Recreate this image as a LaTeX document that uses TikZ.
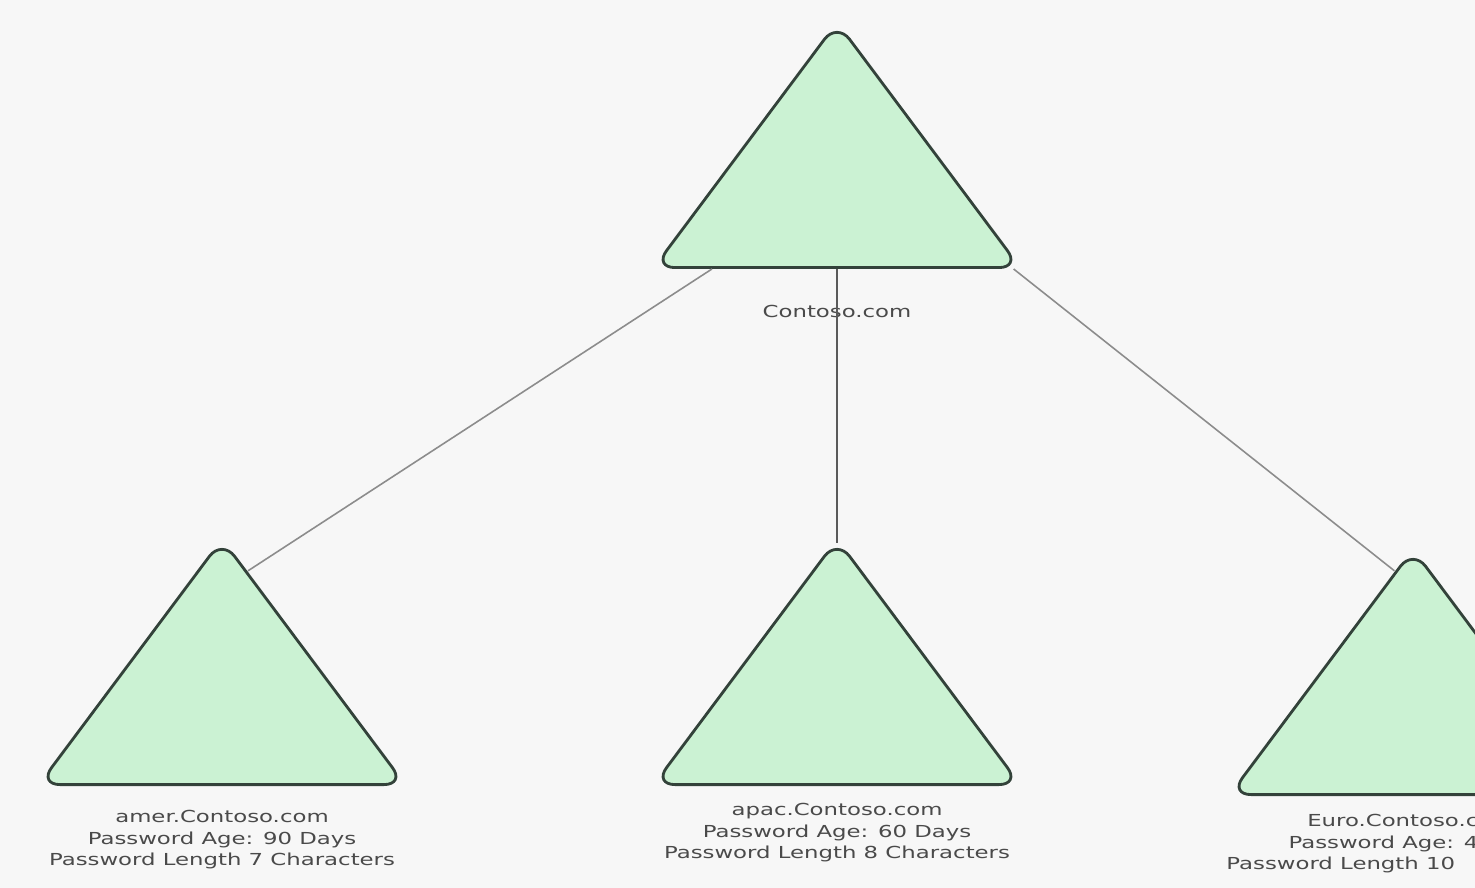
\documentclass[tikz,border=0pt]{standalone}
\usepackage{fontspec}
\setmainfont{DejaVu Sans}[FakeStretch=1.38]
\usetikzlibrary{shapes.geometric,positioning,calc}
\definecolor{bgcol}{HTML}{F7F7F7}
\definecolor{domfill}{HTML}{CBF2D3}
\definecolor{domline}{HTML}{33423A}
\definecolor{linkgray}{HTML}{8C8C8C}
\definecolor{trunkgray}{HTML}{5A5A5A}
\definecolor{txtgray}{HTML}{4A4A4A}

\tikzset{
  dombox/.style={isosceles triangle, isosceles triangle stretches, shape border rotate=90,
    minimum width=3.66cm, minimum height=2.45cm, inner sep=0pt, rounded corners=6pt,
    draw=domline, line width=0.8pt, fill=domfill},
  lbl/.style={text=txtgray, font=\fontsize{4.7}{6.0}\selectfont, align=center, inner sep=0pt},
  link/.style={draw=linkgray, line width=0.45pt},
  trunk/.style={draw=trunkgray, line width=0.8pt}
}

\begin{document}
\begin{tikzpicture}[x=0.01cm,y=-0.01cm]
\clip (0,0) rectangle (1475,888);
\fill[bgcol] (0,0) rectangle (1475,888);

% forest root and child domains
\node[dombox, anchor=lower side](root) at (837,269){};
\node[dombox, anchor=lower side](amer) at (222,786){};
\node[dombox, anchor=lower side](apac) at (837,786){};
\node[dombox, anchor=lower side](euro) at (1413,796){};

\node[lbl, below=0.36cm of root.lower side](rootlbl){Contoso.com};
\node[lbl, below=0.24cm of amer.lower side](amerlbl){amer.Contoso.com\\Password Age: 90 Days\\Password Length 7 Characters};
\node[lbl, below=0.17cm of apac.lower side](apaclbl){apac.Contoso.com\\Password Age: 60 Days\\Password Length 8 Characters};
\node[lbl, align=right, anchor=north east](eurolbl) at (1479,814){Euro.Contoso.c\\Password Age: 4\\Password Length 10\hphantom{ C}};

% links
\draw[link] ([xshift=-1.25cm]root.lower side) -- ($(amer.apex)!0.14!(amer.right corner)$);
\draw[trunk] (root.lower side) -- ([yshift=-0.07cm]apac.apex);
\draw[link] ($(root.right corner)!0.025!(root.left corner)$) -- ($(euro.apex)!0.1!(euro.left corner)$);
\end{tikzpicture}
\end{document}
